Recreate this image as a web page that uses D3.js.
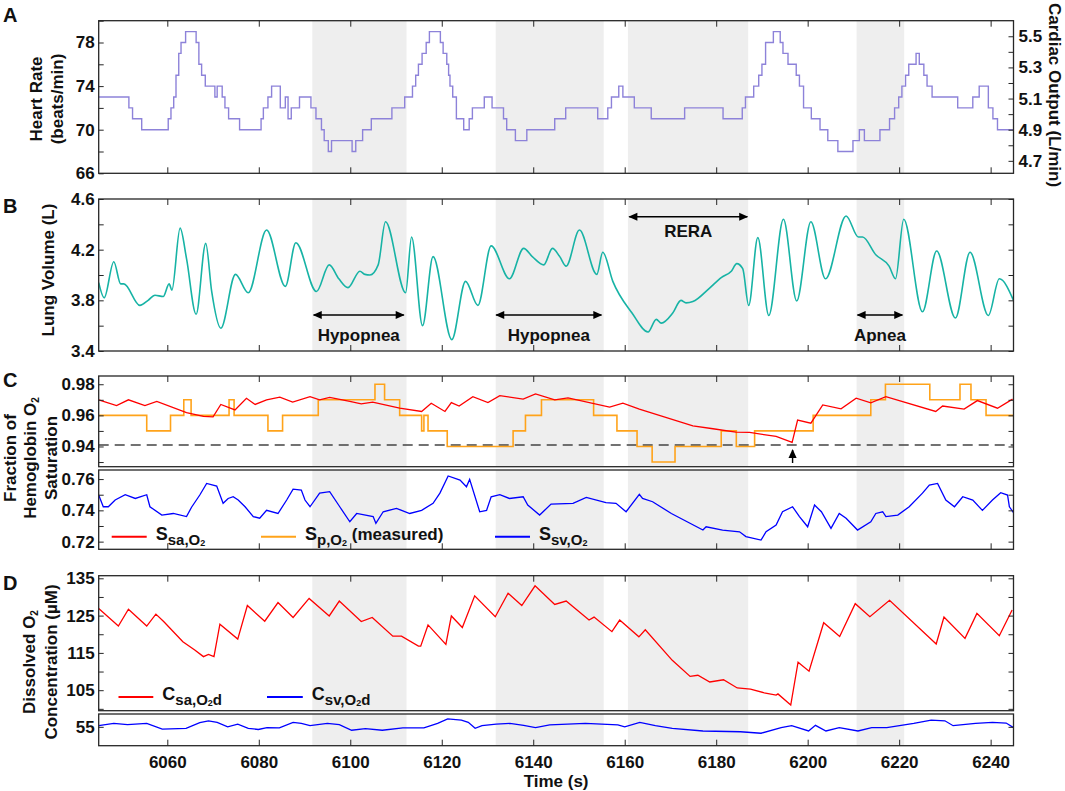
<!doctype html>
<html>
<head>
<meta charset="utf-8">
<title>Sleep event traces</title>
<script src="https://cdnjs.cloudflare.com/ajax/libs/d3/7.8.5/d3.min.js"></script>
<style>
  body { margin: 0; background: #fff; }
  svg text { font-family: "Liberation Sans", Arial, sans-serif; font-weight: bold; fill: #111; }
  .tick text { font-size: 17px; }
</style>
</head>
<body>
<svg id="chart" width="1065" height="791"></svg>
<script>
// time window and shaded event periods (s)
const timeDomain = [6045, 6245];
const xTicks = [6060, 6080, 6100, 6120, 6140, 6160, 6180, 6200, 6220, 6240];
const shadeStart = [6091.7, 6131.8, 6160.7, 6210.7];
const shadeEnd = [6112.3, 6155.4, 6187, 6221.1];

// A: heart rate (beats/min), stairs
const hrTime = [6045,6051.6,6052.4,6054.4,6060.2,6060.8,6061.4,6061.9,6062.5,6063.0,6064.0,6066.3,6066.9,6067.5,6068.3,6070.4,6070.9,6072.0,6072.6,6073.4,6075.8,6080.5,6081.0,6082.0,6082.8,6084.7,6085.8,6086.4,6087.1,6088.9,6091.4,6092.5,6093.7,6094.3,6095.2,6095.9,6100.4,6101.2,6102.7,6104.6,6109.1,6111.9,6113.6,6114.3,6114.9,6115.7,6116.6,6117.3,6119.7,6120.3,6121.1,6121.5,6121.8,6122.4,6123.2,6124.8,6126.0,6126.7,6129.3,6131.0,6133.5,6134.2,6136.1,6138.6,6144.7,6147.1,6154.1,6156.3,6157.1,6158.7,6159.6,6162.1,6165.8,6173.1,6181.5,6185.7,6186.4,6188.2,6189.3,6190.0,6190.8,6192.5,6194.0,6194.6,6195.7,6197.5,6198.2,6199.1,6200.8,6202.7,6204.4,6206.6,6209.9,6211.3,6212.4,6215.8,6217.9,6219.0,6219.9,6220.6,6221.4,6222.1,6223.7,6224.4,6225.4,6226.1,6227.2,6232.8,6236.1,6237.5,6239.5,6240.5,6241.5];
const hrValue = [73,72,71,70,71,72,73,75,77,78,79,78,76,75,74,73,74,73,72,71,70,71,72,73,74,72,73,71,72,73,72,71,70,69,68,69,68,69,70,71,72,73,74,75,76,77,78,79,78,77,76,75,74,73,71,70,71,72,73,72,71,70,69,70,71,72,71,72,73,74,73,72,71,72,71,72,73,74,75,76,78,79,78,77,76,75,74,72,71,70,69,68,69,70,69,70,71,72,73,74,75,76,77,76,75,74,73,72,73,74,72,71,70];
const strokeVolume = 0.07; // L per beat, right axis of A

// B: lung volume (L)
const lvTime = [6045,6046.2,6048.3,6049.8,6050.5,6054.0,6055.8,6057.3,6059.1,6060.4,6061.0,6062.8,6064.2,6066.3,6068.4,6069.7,6071.7,6074.9,6077.7,6081.7,6085.8,6088.1,6092.6,6095.4,6097.5,6099.5,6102.1,6103.2,6104.3,6106.1,6107.7,6112.1,6113.4,6115.8,6118.1,6122.2,6125.2,6127.9,6130.8,6134.8,6137.9,6139.8,6142.3,6144.2,6145.8,6147.2,6150.1,6153.9,6155.2,6157.4,6161.6,6165.1,6166.9,6168.0,6170.5,6172.3,6173.4,6174.9,6178.5,6181.1,6183.3,6184.5,6185.8,6187.1,6189.1,6191.5,6194.7,6197.6,6200.7,6203.9,6208.4,6211.1,6212.0,6214.9,6217.8,6219.2,6221.0,6225.1,6228.2,6232.3,6235.5,6239.5,6241.9,6245];
const lvValue = [3.94,3.82,4.105,3.93,3.93,3.76,3.80,3.84,3.83,3.93,3.88,4.37,4.13,3.69,4.25,3.87,3.58,4.005,3.86,4.355,3.91,4.255,3.87,4.08,3.97,3.90,4.03,4.005,4.0,4.08,4.42,3.86,4.30,3.60,4.145,3.49,3.95,3.76,4.23,3.97,4.21,4.145,4.08,4.21,4.145,4.07,4.355,4.005,4.18,3.95,3.70,3.55,3.65,3.62,3.70,3.80,3.78,3.79,3.895,3.98,4.03,4.09,4.05,3.76,4.295,3.68,4.44,3.795,4.42,3.97,4.466,4.30,4.30,4.16,4.07,3.97,4.44,3.71,4.19,3.66,4.18,3.68,3.97,3.80];

// C: arterial saturation (model)
const saTime = [6045,6048.9,6051.5,6055.1,6057.7,6064.2,6067.9,6070.0,6071.7,6074.8,6077.3,6079.2,6081.7,6084.6,6087.4,6091.2,6093.3,6095.5,6099.9,6102.4,6104.9,6110.8,6115.6,6117.7,6120.7,6122.1,6123.8,6126.8,6130.1,6132.7,6137.8,6140.5,6144.7,6147.6,6156.7,6159.6,6163.2,6174.9,6179.3,6184.3,6187.3,6193.1,6196.6,6197.8,6200.7,6203.3,6207.3,6210.6,6213.8,6217.1,6228.0,6229.5,6234.2,6237.1,6241.5,6244.8];
const saValue = [0.970,0.9663,0.970,0.9663,0.969,0.9618,0.9593,0.959,0.967,0.9635,0.971,0.967,0.970,0.9717,0.9685,0.972,0.970,0.9715,0.969,0.9674,0.9685,0.9646,0.9625,0.9678,0.9625,0.9682,0.966,0.972,0.9682,0.9727,0.9704,0.9738,0.970,0.9712,0.9653,0.9678,0.964,0.9533,0.9514,0.9492,0.949,0.9465,0.9426,0.957,0.955,0.9667,0.9642,0.971,0.968,0.972,0.9625,0.966,0.964,0.9695,0.9646,0.9704];
// C: pulse oximeter (measured), stairs
const spTime = [6045,6055.5,6060.7,6063.6,6065.2,6073.5,6074.6,6082.0,6085.2,6093.0,6105.4,6107.5,6110.8,6115.6,6116.1,6117.0,6121.2,6135.6,6138.3,6141.8,6153.2,6158.3,6162.7,6166.0,6171.0,6181.1,6184.4,6188.4,6201.2,6213.8,6217.0,6226.7,6233.3,6235.7,6239.0];
const spValue = [0.96,0.95,0.96,0.97,0.96,0.97,0.96,0.95,0.96,0.97,0.98,0.97,0.96,0.95,0.96,0.95,0.94,0.95,0.96,0.97,0.96,0.95,0.94,0.93,0.94,0.95,0.94,0.95,0.96,0.97,0.98,0.97,0.98,0.97,0.96];
const spThreshold = 0.941;
const arrowTime = 6196.7;
// C: venous saturation
const svTime = [6045,6046,6047.1,6048.6,6050.8,6053,6055.5,6056.2,6058.8,6061.3,6064.2,6065.3,6067.1,6068.6,6070.8,6072.2,6073.3,6074.4,6075.5,6077,6078.8,6080.2,6081.7,6084.2,6086.1,6087.5,6089.3,6090.1,6091.2,6093.3,6095.5,6097.7,6099.9,6101.4,6105,6105.6,6107.2,6110.1,6113,6115.6,6118.1,6119.6,6121.4,6124,6125.4,6126.1,6128.3,6129.8,6130.8,6132.7,6134.8,6137.8,6138.8,6141.4,6143.9,6148.7,6151.6,6155.9,6158.1,6160.3,6163.2,6163.9,6166.1,6170.2,6177.1,6177.8,6181.4,6185.1,6186.5,6189.8,6190.9,6193.1,6194.5,6196.7,6198.2,6200,6201.5,6203,6205.1,6206.9,6208.4,6210.9,6213.8,6214.9,6216.4,6217.1,6219.7,6222.2,6225.1,6226.6,6228.4,6230.2,6232.1,6233.9,6236.1,6238.2,6240.4,6242.2,6243.7,6244.1,6245];
const svValue = [0.7498,0.7423,0.7423,0.7466,0.750,0.7476,0.750,0.7423,0.737,0.738,0.736,0.742,0.7498,0.7572,0.7555,0.7445,0.7476,0.7487,0.7466,0.7423,0.736,0.735,0.740,0.738,0.7466,0.7536,0.753,0.7466,0.7423,0.751,0.752,0.7423,0.7327,0.738,0.736,0.7317,0.7391,0.7413,0.738,0.740,0.7445,0.751,0.762,0.7594,0.7551,0.7598,0.7391,0.740,0.7487,0.750,0.7476,0.7487,0.7434,0.737,0.744,0.7445,0.7483,0.7449,0.7445,0.7391,0.7502,0.7476,0.7455,0.738,0.7274,0.7295,0.7274,0.7263,0.7232,0.721,0.7263,0.7306,0.7391,0.7423,0.736,0.7295,0.7434,0.7391,0.7285,0.738,0.7349,0.7274,0.7327,0.738,0.7391,0.736,0.737,0.7423,0.751,0.7562,0.7572,0.7466,0.7423,0.7487,0.7466,0.740,0.7466,0.7513,0.7498,0.7423,0.7385];

// D: dissolved O2 (uM)
const caTime = [6045,6049.3,6051.5,6055.5,6057.5,6059.2,6063.4,6066.0,6067.9,6069.0,6070.2,6071.5,6075.4,6077.5,6081.3,6084.2,6087.5,6091.0,6095.4,6097.6,6102.4,6104.8,6109.3,6111.2,6114.9,6115.4,6117.0,6120.9,6122.1,6124.5,6127.2,6131.7,6134.5,6137.5,6140.4,6144.7,6147.2,6152.2,6153.3,6157.2,6158.9,6163.1,6164.5,6170.4,6174.3,6176.0,6178.6,6181.6,6184.6,6187.5,6190.5,6193.1,6193.5,6196.3,6197.9,6200.3,6203.5,6207.0,6210.4,6213.6,6217.9,6228.1,6229.8,6234.4,6237.0,6241.9,6244.7];
const caValue = [126.9,122.2,126.7,122.2,125.4,123.4,118.0,115.8,114.0,114.6,114.0,122.7,118.7,127.7,123.5,128.5,124.5,129.6,124.9,128.9,123.4,124.5,119.5,119.5,116.8,116.8,122.5,117.3,124.9,121.8,130.3,124.7,131.0,127.7,133.0,128.0,128.9,123.8,124.6,120.7,123.8,119.3,121.2,113.0,108.7,109.0,107.2,107.8,105.6,105.3,104.3,103.7,104.0,101.0,112.5,110.1,123.1,119.4,128.2,124.7,129.1,117.4,124.6,118.9,125.6,119.6,126.5];
const cvTime = [6045,6048.3,6051.3,6055.5,6058.9,6064.1,6067.1,6069.0,6070.9,6073.2,6075.4,6077.7,6079.9,6081.8,6084.5,6087.5,6089.3,6091.2,6095.0,6097.6,6100.3,6103.3,6107.0,6111.5,6116.1,6119.1,6121.3,6124.3,6125.8,6127.3,6128.8,6131.9,6134.9,6137.9,6140.5,6143.6,6151.4,6158.5,6160.0,6163.3,6166.7,6170.4,6177.1,6185.3,6189.8,6194.2,6196.5,6200.2,6201.7,6204.0,6206.9,6211.0,6214.0,6217.3,6223.2,6227.0,6230.0,6231.8,6236.7,6240.4,6243.4,6245];
const cvValue = [55.3,55.9,55.6,55.9,54.4,54.6,56.1,56.6,56.2,55.0,55.7,54.6,54.3,54.8,54.7,56.2,55.9,55.3,55.9,55.6,54.1,54.5,54.1,54.7,54.7,55.9,57.1,56.8,56.2,54.6,55.3,55.7,55.9,55.4,54.8,55.5,55.9,55.5,55.0,56.2,55.3,54.6,53.9,53.7,53.3,54.8,55.3,53.9,55.4,53.9,54.8,53.9,54.8,54.8,55.9,56.8,56.6,55.3,55.9,56.2,56.0,54.8];

// annotations in B
const eventLabels = ["Hypopnea", "Hypopnea", "RERA", "Apnea"];
const eventFrom = [6092, 6131.9, 6161, 6210.9];
const eventTo = [6111.7, 6154.9, 6186.8, 6220.7];
const eventHigh = [false, false, true, false];

const svg = d3.select("#chart");
const defs = svg.append("defs");
const x = d3.scaleLinear().domain(timeDomain).range([98.7, 1013.5]);
const frameColor = "#262626";

defs.append("marker").attr("id", "head")
  .attr("viewBox", "0 0 10 10").attr("refX", 9).attr("refY", 5)
  .attr("markerWidth", 11).attr("markerHeight", 9)
  .attr("markerUnits", "userSpaceOnUse").attr("orient", "auto-start-reverse")
  .append("path").attr("d", "M0,0.5L10,5L0,9.5z").attr("fill", "#000");

function pairs(t, v) { return t.map((d, i) => [d, v[i]]); }

let nClip = 0;
// one framed plot box with shading; axes are drawn by the caller
function makeBox(top, bottom, domain) {
  const id = "clip" + (nClip++);
  defs.append("clipPath").attr("id", id).append("rect")
    .attr("x", x.range()[0]).attr("y", top)
    .attr("width", x.range()[1] - x.range()[0]).attr("height", bottom - top);
  const y = d3.scaleLinear().domain(domain).range([bottom, top]);
  const g = svg.append("g");
  g.append("g").attr("clip-path", `url(#${id})`)
    .selectAll("rect").data(shadeStart).join("rect")
    .attr("x", d => x(d)).attr("width", (d, i) => x(shadeEnd[i]) - x(d))
    .attr("y", top).attr("height", bottom - top).attr("fill", "#eeeeee");
  const plot = g.append("g").attr("clip-path", `url(#${id})`);
  const axes = g.append("g").attr("color", frameColor);
  axes.append("rect").attr("x", x.range()[0]).attr("y", top)
    .attr("width", x.range()[1] - x.range()[0]).attr("height", bottom - top)
    .attr("fill", "none").attr("stroke", frameColor).attr("stroke-width", 1.3);
  return { y, plot, axes, top, bottom };
}

function yAxes(b, ticks, labelled, fmt) {
  const l = b.axes.append("g").attr("transform", `translate(${x.range()[0]},0)`)
    .call(d3.axisLeft(b.y).tickValues(ticks).tickSize(-5).tickPadding(4)
      .tickFormat(d => labelled(d) ? fmt(d) : ""));
  l.select(".domain").remove();
  const r = b.axes.append("g").attr("transform", `translate(${x.range()[1]},0)`)
    .call(d3.axisRight(b.y).tickValues(ticks).tickSize(-5).tickFormat(""));
  r.select(".domain").remove();
}

function xAxes(b, top, bottom, labels) {
  if (top) {
    b.axes.append("g").attr("transform", `translate(0,${b.top})`)
      .call(d3.axisTop(x).tickValues(xTicks).tickSize(-6).tickFormat(""))
      .select(".domain").remove();
  }
  if (bottom) {
    b.axes.append("g").attr("transform", `translate(0,${b.bottom})`)
      .call(d3.axisBottom(x).tickValues(xTicks).tickSize(-6).tickPadding(10)
        .tickFormat(labels ? d3.format("d") : ""))
      .select(".domain").remove();
  }
}

const linear = (y) => d3.line().x(d => x(d[0])).y(d => y(d[1]));
const stairs = (y) => d3.line().x(d => x(d[0])).y(d => y(d[1])).curve(d3.curveStepAfter);
const smooth = (y) => d3.line().x(d => x(d[0])).y(d => y(d[1])).curve(d3.curveMonotoneX);

// ---------- A ----------
const A = makeBox(20.7, 173.3, [66, 80]);
const hrData = pairs(hrTime, hrValue);
hrData.push([timeDomain[1], hrValue[hrValue.length - 1]]);
A.plot.append("path").datum(hrData).attr("d", stairs(A.y))
  .attr("fill", "none").attr("stroke", "#8d82d9").attr("stroke-width", 1.4);
{
  const l = A.axes.append("g").attr("transform", `translate(${x.range()[0]},0)`)
    .call(d3.axisLeft(A.y).tickValues(d3.range(66, 81, 2)).tickSize(-5).tickPadding(4)
      .tickFormat(d => (d - 66) % 4 === 0 && d < 80 ? d : ""));
  l.select(".domain").remove();
  const co = d3.scaleLinear().domain([66 * strokeVolume, 80 * strokeVolume]).range(A.y.range());
  const r = A.axes.append("g").attr("transform", `translate(${x.range()[1]},0)`)
    .call(d3.axisRight(co).tickValues(d3.range(47, 56).map(d => d / 10)).tickSize(-5).tickPadding(5)
      .tickFormat(d => Math.round(d * 10) % 2 === 1 ? d3.format(".1f")(d) : ""));
  r.select(".domain").remove();
}
xAxes(A, true, true, false);

// ---------- B ----------
const B = makeBox(199, 351, [3.4, 4.6]);
B.plot.append("path").datum(pairs(lvTime, lvValue)).attr("d", smooth(B.y))
  .attr("fill", "none").attr("stroke", "#17b3a5").attr("stroke-width", 1.6);
yAxes(B, d3.range(17, 24).map(d => d / 5), d => Math.round(d * 10) % 4 === 2, d3.format(".1f"));
xAxes(B, true, true, false);

eventLabels.forEach((lab, i) => {
  const ya = eventHigh[i] ? 216.7 : 315;
  svg.append("line").attr("x1", x(eventFrom[i])).attr("x2", x(eventTo[i]))
    .attr("y1", ya).attr("y2", ya).attr("stroke", "#000").attr("stroke-width", 1.6)
    .attr("marker-start", "url(#head)").attr("marker-end", "url(#head)");
  svg.append("text").attr("x", (x(eventFrom[i]) + x(eventTo[i])) / 2)
    .attr("y", eventHigh[i] ? 237 : 341).attr("text-anchor", "middle")
    .attr("font-size", 17).text(lab);
});

// ---------- C ----------
const C1 = makeBox(376, 466.7, [0.927, 0.9853]);
C1.plot.append("line").attr("x1", x.range()[0]).attr("x2", x.range()[1])
  .attr("y1", C1.y(spThreshold)).attr("y2", C1.y(spThreshold))
  .attr("stroke", "#444").attr("stroke-width", 1.5).attr("stroke-dasharray", "10,6");
const spData = pairs(spTime, spValue);
spData.push([timeDomain[1], spValue[spValue.length - 1]]);
C1.plot.append("path").datum(spData).attr("d", stairs(C1.y))
  .attr("fill", "none").attr("stroke", "#ffa31a").attr("stroke-width", 1.6);
C1.plot.append("path").datum(pairs(saTime, saValue)).attr("d", linear(C1.y))
  .attr("fill", "none").attr("stroke", "#ff0000").attr("stroke-width", 1.3);
yAxes(C1, d3.range(93, 99).map(d => d / 100), d => Math.round(d * 100) % 2 === 0, d3.format(".2f"));
xAxes(C1, true, false, false);
svg.append("line").attr("x1", x(arrowTime)).attr("x2", x(arrowTime))
  .attr("y1", 463).attr("y2", 450).attr("stroke", "#000").attr("stroke-width", 1.4)
  .attr("marker-end", "url(#head)");

const C2 = makeBox(470, 549.3, [0.7151, 0.7658]);
C2.plot.append("path").datum(pairs(svTime, svValue)).attr("d", linear(C2.y))
  .attr("fill", "none").attr("stroke", "#0000ff").attr("stroke-width", 1.3);
yAxes(C2, d3.range(72, 77).map(d => d / 100), d => Math.round(d * 100) % 2 === 0, d3.format(".2f"));
xAxes(C2, false, true, false);

// ---------- D ----------
const D1 = makeBox(575.7, 710.7, [99.5, 135.7]);
D1.plot.append("path").datum(pairs(caTime, caValue)).attr("d", linear(D1.y))
  .attr("fill", "none").attr("stroke", "#ff0000").attr("stroke-width", 1.3);
yAxes(D1, d3.range(100, 136, 5), d => d % 10 === 5, d3.format("d"));
xAxes(D1, true, false, false);

const D2 = makeBox(714, 745.7, [50, 58.4]);
D2.plot.append("path").datum(pairs(cvTime, cvValue)).attr("d", linear(D2.y))
  .attr("fill", "none").attr("stroke", "#0000ff").attr("stroke-width", 1.3);
yAxes(D2, [55], () => true, d3.format("d"));
xAxes(D2, false, true, true);

// ---------- legends ----------
function legend(x0, x1, yl, color, main, sub, tail) {
  svg.append("line").attr("x1", x0).attr("x2", x1).attr("y1", yl).attr("y2", yl)
    .attr("stroke", color).attr("stroke-width", 2);
  const t = svg.append("text").attr("x", x1 + 9).attr("y", yl + 3).attr("font-size", 18);
  t.append("tspan").text(main);
  t.append("tspan").attr("font-size", 15).attr("dy", 5).text(sub);
  t.append("tspan").attr("font-size", 9).attr("dy", 1).text("2");
  if (tail) t.append("tspan").attr("font-size", 15).attr("dy", -1).text(tail);
  return t;
}
legend(111.7, 146.7, 536.7, "#ff0000", "S", "sa,O");
const spLeg = legend(261, 296, 536.7, "#ffa31a", "S", "p,O");
spLeg.append("tspan").attr("font-size", 17).attr("dy", -6).text(" (measured)");
legend(495, 530, 536.7, "#0000ff", "S", "sv,O");
legend(118.5, 153.3, 697, "#ff0000", "C", "sa,O", "d");
legend(267, 302.8, 697, "#0000ff", "C", "sv,O", "d");

// ---------- titles ----------
function rotLabel(xc, yc, parts, angle) {
  const t = svg.append("text").attr("transform", `translate(${xc},${yc}) rotate(${angle || -90})`)
    .attr("text-anchor", "middle").attr("dy", "0.36em").attr("font-size", 17);
  parts.forEach(p => {
    const s = t.append("tspan").text(p[0]);
    if (p[1]) s.attr("font-size", p[1]);
    if (p[2]) s.attr("dy", p[2]);
  });
}
rotLabel(36, 99, [["Heart Rate"]]);
rotLabel(57, 99, [["(beats/min)"]]);
rotLabel(1055, 95, [["Cardiac Output (L/min)"]], 90);
rotLabel(48, 270, [["Lung Volume (L)"]]);
rotLabel(10, 458, [["Fraction of"]]);
rotLabel(30, 458, [["Hemoglobin O"], ["2", 10, 3]]);
rotLabel(51, 458, [["Saturation"]]);
rotLabel(29, 662, [["Dissolved O"], ["2", 10, 3]]);
rotLabel(51, 662, [["Concentration (\u00b5M)"]]);

svg.append("text").attr("x", (x.range()[0] + x.range()[1]) / 2).attr("y", 787)
  .attr("text-anchor", "middle").attr("font-size", 17).text("Time (s)");

const letters = ["A", "B", "C", "D"];
const letterY = [22, 213, 387, 590];
letters.forEach((l, i) => {
  svg.append("text").attr("x", 3).attr("y", letterY[i]).attr("font-size", 20).text(l);
});
</script>
</body>
</html>
